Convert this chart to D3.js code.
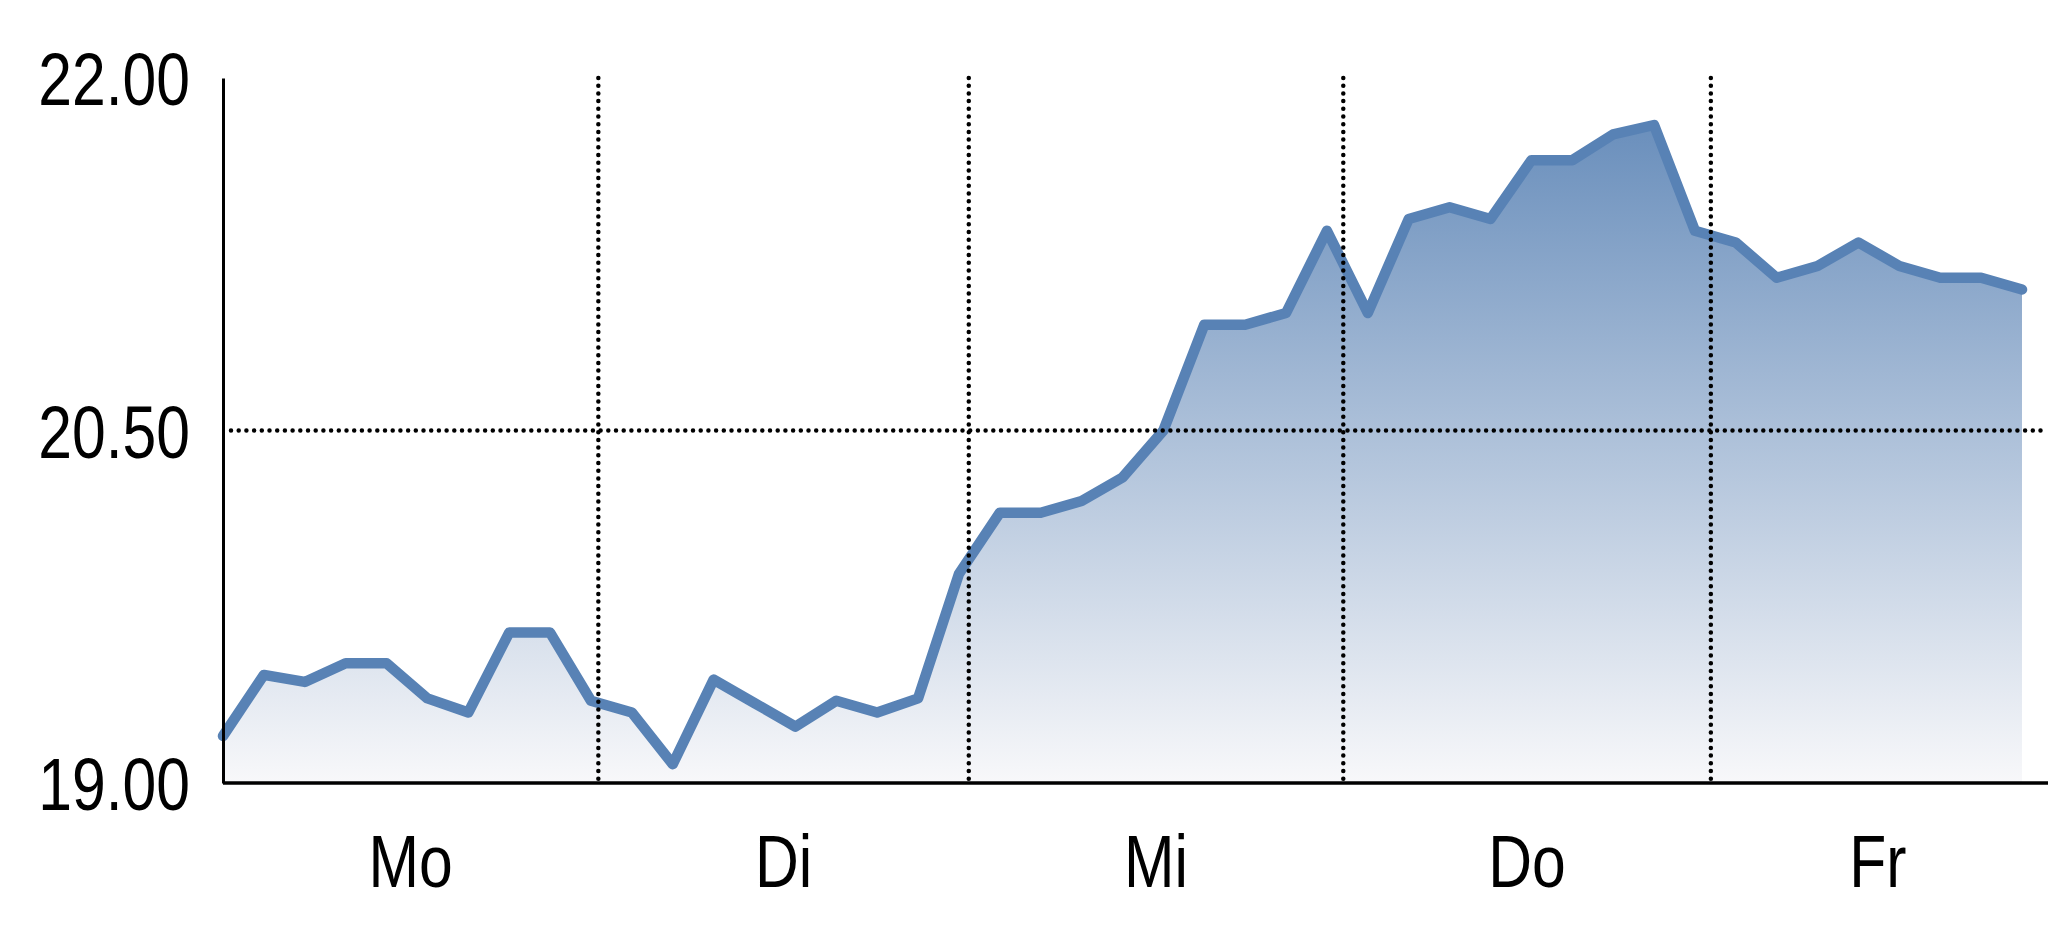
<!DOCTYPE html>
<html>
<head>
<meta charset="utf-8">
<script src="https://cdn.jsdelivr.net/npm/d3@7"></script>
<style>
  html, body { margin: 0; padding: 0; background: #ffffff; }
  svg { display: block; }
  .lbl { font-family: "Liberation Sans", Arial, sans-serif; font-size: 74px; fill: #000; }
</style>
</head>
<body>
<svg id="chart" width="2048" height="937"></svg>
<script>
// ---- data ----
const values = [19.20, 19.46, 19.43, 19.51, 19.51, 19.36, 19.30, 19.64, 19.64,
                19.35, 19.30, 19.08, 19.44, 19.34, 19.24, 19.35, 19.30, 19.36,
                19.89, 20.15, 20.15, 20.20, 20.30, 20.50, 20.95, 20.95, 21.00,
                21.35, 21.00, 21.40, 21.45, 21.40, 21.65, 21.65, 21.76, 21.80,
                21.35, 21.30, 21.15, 21.20, 21.30, 21.20, 21.15, 21.15, 21.10];
const days = ["Mo", "Di", "Mi", "Do", "Fr"];
const dayBounds = [9.18, 18.24, 27.4, 36.39];   // day separators, in point-index units
const xEnd = 44.56;                               // end of plot, in point-index units
const yTicks = [19, 20.5, 22];
const gridY = [20.5];

// ---- layout ----
const svg = d3.select("#chart");
const mLeft = 223, mTop = 78, mBottom = 783, lastX = 2022;
const narrow = 0.82;

const x = d3.scaleLinear().domain([0, values.length - 1]).range([mLeft, lastX]);
const y = d3.scaleLinear().domain([19, 22]).range([mBottom, mTop]);

// gradient
const defs = svg.append("defs");
const grad = defs.append("linearGradient").attr("id", "areaGrad")
  .attr("x1", 0).attr("y1", 0).attr("x2", 0).attr("y2", 1);
grad.append("stop").attr("offset", "0%").attr("stop-color", "#6a8fbc");
grad.append("stop").attr("offset", "100%").attr("stop-color", "#f8f8fa");

const idx = d3.range(values.length);

// area
svg.append("path")
  .datum(idx)
  .attr("d", d3.area().x(i => x(i)).y0(y(19)).y1(i => y(values[i])))
  .attr("fill", "url(#areaGrad)");

// line
svg.append("path")
  .datum(idx)
  .attr("d", d3.line().x(i => x(i)).y(i => y(values[i])))
  .attr("fill", "none")
  .attr("stroke", "#5882b5")
  .attr("stroke-width", 10.5)
  .attr("stroke-linejoin", "round")
  .attr("stroke-linecap", "round");

// dotted grid
const dot = sel => sel.attr("stroke", "#000").attr("stroke-width", 4.5)
  .attr("stroke-linecap", "round").attr("stroke-dasharray", "0 7.7").attr("fill", "none");

svg.append("g").selectAll("line").data(dayBounds).join("line")
  .attr("x1", d => x(d)).attr("x2", d => x(d))
  .attr("y1", y(22)).attr("y2", y(19))
  .call(dot);

svg.append("g").selectAll("line").data(gridY).join("line")
  .attr("x1", mLeft + 8).attr("x2", x(xEnd))
  .attr("y1", d => y(d)).attr("y2", d => y(d))
  .call(dot);

// y axis
const yAxis = d3.axisLeft(y).tickValues(yTicks).tickSize(0).tickPadding(33)
  .tickFormat(d3.format(".2f"));
const gy = svg.append("g").attr("transform", `translate(${mLeft},0)`).call(yAxis);
gy.attr("font-size", null).attr("font-family", null);
gy.select(".domain").attr("stroke", "#000").attr("stroke-width", 3);
gy.selectAll(".tick text")
  .attr("class", "lbl")
  .attr("transform", `translate(-33,0) scale(${narrow},1)`)
  .attr("x", 0)
  .attr("dy", "0.36em");

// x axis line
svg.append("line")
  .attr("x1", mLeft).attr("x2", 2048)
  .attr("y1", mBottom).attr("y2", mBottom)
  .attr("stroke", "#000").attr("stroke-width", 3.5);

// day labels
const edges = [0, ...dayBounds, xEnd];
svg.append("g").selectAll("text").data(days).join("text")
  .attr("class", "lbl")
  .attr("text-anchor", "middle")
  .attr("transform", (d, i) => `translate(${(x(edges[i]) + x(edges[i + 1])) / 2},887) scale(${narrow},1)`)
  .text(d => d);
</script>
</body>
</html>
